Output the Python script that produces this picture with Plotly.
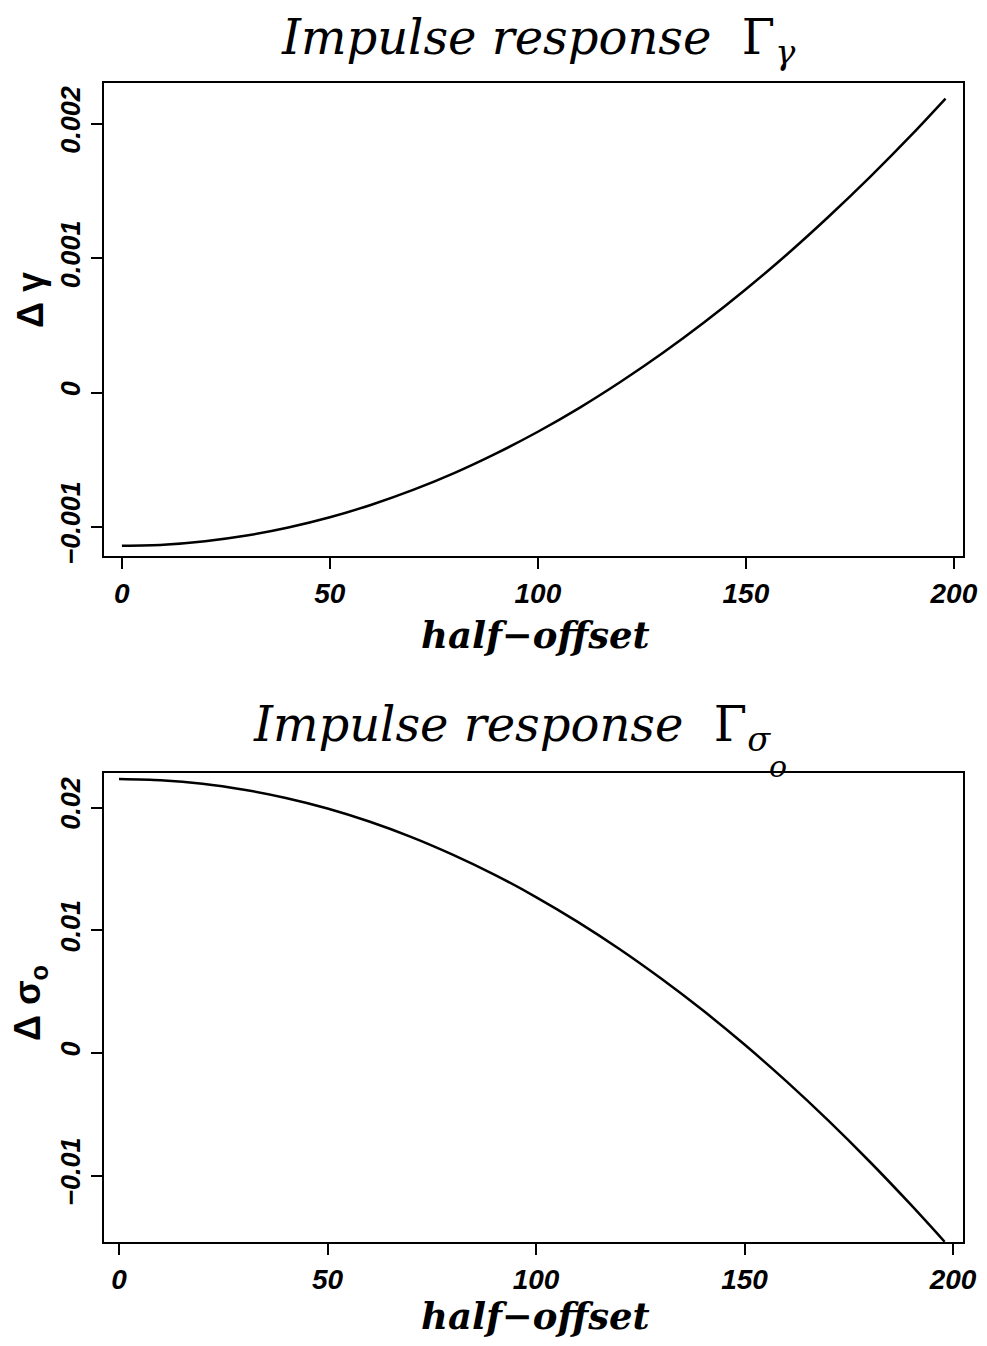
import plotly.graph_objects as go
from plotly.subplots import make_subplots

# ---- data ----
half_offset = [0, 10, 20, 30, 40, 50, 60, 70, 80, 90, 100,
               110, 120, 130, 140, 150, 160, 170, 180, 190, 198]
delta_gamma = [-0.001140, -0.001132, -0.001106, -0.001064, -0.001004, -0.000928,
               -0.000834, -0.000724, -0.000597, -0.000452, -0.000291, -0.000113,
               0.000083, 0.000295, 0.000524, 0.000770, 0.001033, 0.001314,
               0.001611, 0.001925, 0.002190]
delta_sigma = [0.02233, 0.02223, 0.02195, 0.02146, 0.02079, 0.01993,
               0.01887, 0.01762, 0.01617, 0.01454, 0.01271, 0.01069,
               0.00848, 0.00607, 0.00348, 0.00069, -0.00229, -0.00547,
               -0.00884, -0.01240, -0.01538]

x_ticks = [0, 50, 100, 150, 200]
gamma_ticks = [-0.001, 0, 0.001, 0.002]
gamma_ticklabels = ["\u22120.001", "0", "0.001", "0.002"]
sigma_ticks = [-0.01, 0, 0.01, 0.02]
sigma_ticklabels = ["\u22120.01", "0", "0.01", "0.02"]

# page body has an 8px margin; size the figure to fill the 987x1346 window
OFF = 8
W, H = 987 - 2 * OFF, 1346 - 2 * OFF

fig = make_subplots(rows=2, cols=1)
fig.add_trace(go.Scatter(x=half_offset, y=delta_gamma, mode="lines",
                         line=dict(color="black", width=2.5, shape="spline", smoothing=0.8),
                         showlegend=False), row=1, col=1)
fig.add_trace(go.Scatter(x=half_offset, y=delta_sigma, mode="lines",
                         line=dict(color="black", width=2.5, shape="spline", smoothing=0.8),
                         showlegend=False), row=2, col=1)

def px_x(p):
    return (p - OFF) / W

def px_y(p):
    return 1 - (p - OFF) / H

xdom = [px_x(104), px_x(963)]
tickfont_y = dict(family="Liberation Sans", size=27, color="black",
                  weight="bold", style="italic")
tickfont_x = dict(family="Liberation Sans", size=28, color="black",
                  weight="bold", style="italic")
xtitle_font = dict(family="DejaVu Serif", size=37, color="black",
                   weight="bold", style="italic")
ytitle_font = dict(family="Liberation Sans", size=36, color="black",
                   weight="bold")

common_axis = dict(showline=True, linewidth=2.2, linecolor="black", mirror=True,
                   ticks="outside", ticklen=11, tickwidth=2, tickcolor="black",
                   showgrid=False, zeroline=False, automargin=False)

fig.update_xaxes(**common_axis)
fig.update_yaxes(**common_axis)

fig.update_layout(
    xaxis=dict(domain=xdom, range=[-4.3, 202.2], tickvals=x_ticks,
               tickfont=tickfont_x, ticklabelstandoff=0),
    yaxis=dict(domain=[px_y(556), px_y(83)], range=[-0.001216, 0.002306],
               tickvals=gamma_ticks, ticktext=gamma_ticklabels, tickangle=-90,
               tickfont=tickfont_y, ticklabelstandoff=0),
    xaxis2=dict(domain=xdom, range=[-3.6, 202.4], tickvals=x_ticks,
                tickfont=tickfont_x, ticklabelstandoff=0),
    yaxis2=dict(domain=[px_y(1242), px_y(773)], range=[-0.0154, 0.02282],
                tickvals=sigma_ticks, ticktext=sigma_ticklabels, tickangle=-90,
                tickfont=tickfont_y, ticklabelstandoff=0),
    width=W, height=H,
    margin=dict(l=0, r=0, t=0, b=0),
    paper_bgcolor="white", plot_bgcolor="white",
)

def note(text, x, y, font, angle=0):
    fig.add_annotation(text=text, xref="paper", yref="paper",
                       x=px_x(x), y=px_y(y), xanchor="center", yanchor="middle",
                       showarrow=False, font=font, textangle=angle)

# axis titles
note("half\u2212offset", 535, 635, xtitle_font)
note("half\u2212offset", 535, 1316, xtitle_font)
note("\u0394 \u03b3", 30, 300, ytitle_font, -90)
note("\u0394 \u03c3<sub>o</sub>", 30, 1003, ytitle_font, -90)

# panel titles
title_font = dict(family="DejaVu Serif", size=48, color="black")
note("<i>Impulse response</i>  \u0393<sub><i>\u03b3</i></sub>", 538, 40, title_font)
note("<i>Impulse response</i>  \u0393<sub><i>\u03c3</i></sub>", 512, 727, title_font)
note("<i>o</i>", 778, 766, dict(family="DejaVu Serif", size=30, color="black"))

fig.write_html("out.html")
